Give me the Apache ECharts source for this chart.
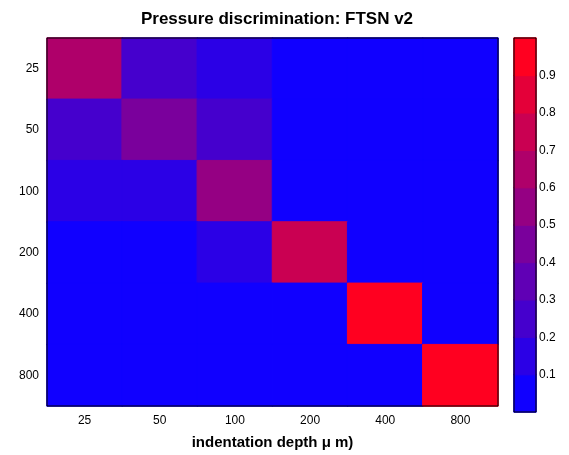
<!DOCTYPE html>
<html>
<head>
<meta charset="utf-8">
<script src="https://cdn.jsdelivr.net/npm/echarts@6/dist/echarts.min.js"></script>
<style>
    html, body {margin: 0; padding: 0; background: #fff;}
    #chart {width: 569px; height: 455px;}
</style>
</head>
<body>
<div id="chart"></div>
<script>
//深度类别 (x : 压痕深度, y : 判别结果)
var depths = ['25', '50', '100', '200', '400', '800'];
//每行一个 y 类别, 从上到下
var row25  = [0.65, 0.25, 0.15, 0.02, 0.02, 0.02];
var row50  = [0.25, 0.45, 0.25, 0.02, 0.02, 0.02];
var row100 = [0.15, 0.15, 0.55, 0.02, 0.02, 0.02];
var row200 = [0.02, 0.02, 0.15, 0.75, 0.02, 0.02];
var row400 = [0.02, 0.02, 0.02, 0.02, 0.97, 0.02];
var row800 = [0.02, 0.02, 0.02, 0.02, 0.02, 0.99];
//色条刻度
var barTicks = ['0.1', '0.2', '0.3', '0.4', '0.5', '0.6', '0.7', '0.8', '0.9'];
//10 级色表, 蓝 -> 红
var cmap = ['#1000ff', '#2b00e6', '#4500cd', '#6000b5', '#7a009c',
            '#950083', '#af006a', '#ca0052', '#e40039', '#ff0020'];

//取值对应色级
function level(v) {
    return cmap[Math.min(cmap.length - 1, Math.max(0, Math.floor(v * 10)))];
}

var rows = [row25, row50, row100, row200, row400, row800];
var cells = [];
rows.forEach(function (r, y) {
    r.forEach(function (v, x) {
        var c = level(v);
        //边框同色, 消除格间缝隙
        cells.push({value: [x, y, v], itemStyle: {color: c, borderColor: c, borderWidth: 1}});
    });
});

//色条也用热图, 每级一格
var levels = cmap.map(function (c, i) { return String(i); });
var barCells = cmap.map(function (c, i) {
    return {value: [0, i, i / 10], itemStyle: {color: c, borderColor: c, borderWidth: 1}};
});

var font = 'Liberation Sans, Arial, sans-serif';
var tickLab = {color: '#000', fontFamily: font, fontSize: 12};
var inTick = {inside: true, alignWithLabel: true, length: 4, lineStyle: {color: '#000'}};

var chart = echarts.init(document.getElementById('chart'));
chart.setOption({
    animation: false,
    backgroundColor: '#fff',
    title: {
        text: 'Pressure discrimination: FTSN v2',
        left: 272, top: 6, textAlign: 'center',
        textStyle: {color: '#000', fontFamily: font, fontSize: 17, fontWeight: 'bold'}
    },
    grid: [
        {left: 47, top: 38, width: 451, height: 374, show: true, borderColor: '#000', borderWidth: 1, z: 10},
        {left: 514, top: 38, width: 22, height: 374, show: true, borderColor: '#000', borderWidth: 1, z: 10}
    ],
    xAxis: [{
        type: 'category', gridIndex: 0, data: depths,
        name: 'indentation depth μ m)', nameLocation: 'middle', nameGap: 29,
        nameTextStyle: {color: '#000', fontFamily: font, fontSize: 15, fontWeight: 'bold'},
        axisLine: {show: false},
        axisTick: inTick,
        axisLabel: Object.assign({margin: 9}, tickLab),
        splitLine: {show: false}
    }, {
        type: 'category', gridIndex: 0, data: depths, position: 'top',
        axisLine: {show: false}, axisLabel: {show: false},
        axisTick: inTick
    }, {
        type: 'category', gridIndex: 1, data: [''], show: false
    }],
    yAxis: [{
        type: 'category', gridIndex: 0, data: depths, inverse: true,
        axisLine: {show: false},
        axisTick: inTick,
        axisLabel: Object.assign({margin: 8}, tickLab),
        splitLine: {show: false}
    }, {
        type: 'category', gridIndex: 0, data: depths, inverse: true, position: 'right',
        axisLine: {show: false}, axisLabel: {show: false},
        axisTick: inTick
    }, {
        type: 'category', gridIndex: 1, data: levels, show: false
    }, {
        type: 'value', gridIndex: 1, min: 0, max: 1, interval: 0.1, position: 'right',
        axisLine: {show: false},
        axisTick: {inside: true, length: 4, lineStyle: {color: '#000'}},
        axisLabel: Object.assign({
            margin: 3,
            formatter: function (v) {
                var s = v.toFixed(1);
                return barTicks.indexOf(s) >= 0 ? s : '';
            }
        }, tickLab),
        splitLine: {show: false}
    }, {
        type: 'value', gridIndex: 1, min: 0, max: 1, interval: 0.1, position: 'left',
        axisLine: {show: false}, axisLabel: {show: false},
        axisTick: {inside: true, length: 4, lineStyle: {color: '#000'}},
        splitLine: {show: false}
    }],
    series: [{
        type: 'heatmap', xAxisIndex: 0, yAxisIndex: 0, data: cells
    }, {
        type: 'heatmap', xAxisIndex: 2, yAxisIndex: 2, data: barCells, silent: true
    }]
});
</script>
</body>
</html>
